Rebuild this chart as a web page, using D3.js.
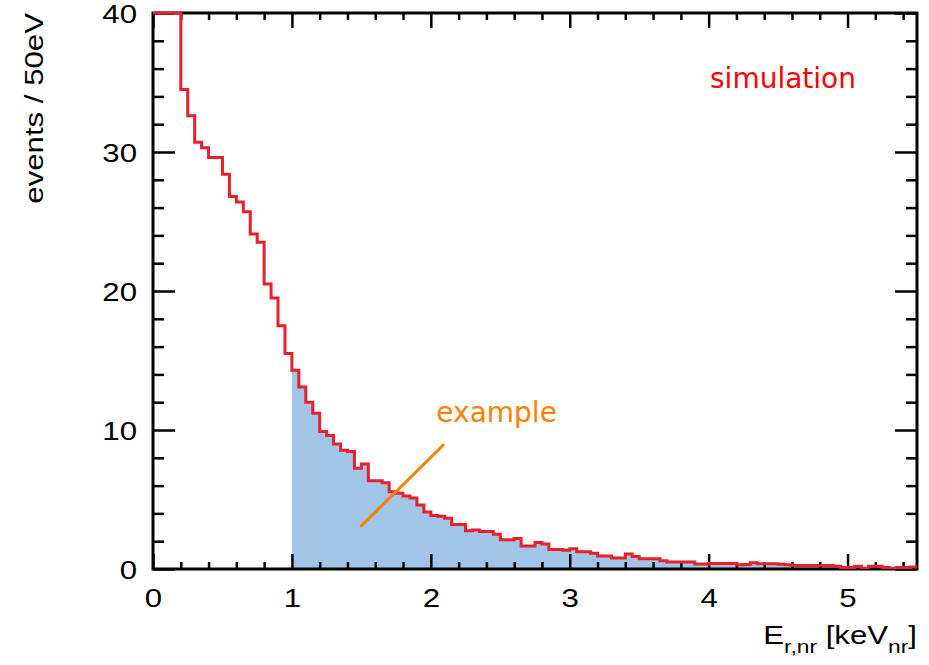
<!DOCTYPE html>
<html lang="en">
<head>
    <meta charset="UTF-8">
    <title>events / 50eV</title>
    <script src="https://d3js.org/d3.v7.min.js"></script>
    <style>
        body {
            margin: 0;
            padding: 0;
            background-color: #ffffff;
            overflow: hidden;
        }
        svg { display: block; }
        .tick-label {
            font-family: 'Liberation Sans', Arial, sans-serif;
            font-size: 26px;
            fill: #000;
        }
        .note {
            font-family: 'DejaVu Sans', sans-serif;
            font-size: 28px;
        }
    </style>
</head>
<body>
    <svg id="chart" width="929" height="665"></svg>

    <script>
        // --- data ---
        const binWidth = 0.05; // keV (50 eV)
        const xRange = [0, 5.5];
        const yRange = [0, 40];
        const xTickLabels = [0, 1, 2, 3, 4, 5];
        const yTickLabels = [0, 10, 20, 30, 40];
        const fillFrom = 1.0; // shaded region starts at 1 keV

        // events per 50 eV bin (first bins are off scale)
        const counts = [
            80, 60, 48, 42, 34.5, 32.6, 30.7, 30.3, 29.6, 29.6,
            28.4, 26.8, 26.4, 25.7, 24.1, 23.5, 20.5, 19.5, 17.5, 15.5,
            14.3, 13.1, 12.0, 11.2, 9.9, 9.6, 9.0, 8.55, 8.45, 7.25,
            7.55, 6.35, 6.35, 6.2, 5.55, 5.45, 5.25, 5.1, 4.6, 4.1,
            3.85, 3.8, 3.65, 3.2, 3.2, 2.75, 2.8, 2.7, 2.7, 2.5,
            2.1, 2.1, 2.2, 1.65, 1.65, 1.9, 1.8, 1.4, 1.4, 1.35,
            1.45, 1.25, 1.25, 1.13, 0.93, 0.93, 0.8, 0.8, 1.08, 0.9,
            0.74, 0.74, 0.74, 0.6, 0.5, 0.5, 0.5, 0.5, 0.36, 0.36,
            0.4, 0.4, 0.4, 0.4, 0.3, 0.33, 0.45, 0.38, 0.38, 0.38,
            0.35, 0.3, 0.25, 0.25, 0.25, 0.25, 0.25, 0.25, 0.2, 0.1,
            0.1, 0.2, 0.05, 0.2, 0.2, 0.1, 0.05, 0.1, 0.1, 0.15
        ];

        // --- layout ---
        const svg = d3.select("#chart");
        const plot = { left: 153, right: 917, top: 13, bottom: 569 };

        const x = d3.scaleLinear().domain(xRange).range([plot.left, plot.right]);
        const y = d3.scaleLinear().domain(yRange).range([plot.bottom, plot.top]).clamp(true);

        // bins as {x0, x1, v}
        const bins = counts.map((v, i) => ({ x0: i * binWidth, x1: (i + 1) * binWidth, v: v }));

        const defs = svg.append("defs");
        defs.append("clipPath").attr("id", "clip")
            .append("rect")
            .attr("x", plot.left).attr("y", plot.top - 2)
            .attr("width", plot.right - plot.left).attr("height", plot.bottom - plot.top + 2);

        const gFill = svg.append("g").attr("clip-path", "url(#clip)");

        // shaded area from 1 keV on
        const shaded = bins.filter(b => b.x0 >= fillFrom - 1e-9);
        const areaPts = shaded.map(b => [b.x0, b.v]);
        areaPts.push([shaded[shaded.length - 1].x1, shaded[shaded.length - 1].v]);
        const area = d3.area()
            .x(d => x(d[0]))
            .y0(y(0))
            .y1(d => y(d[1]))
            .curve(d3.curveStepAfter);
        gFill.append("path")
            .datum(areaPts)
            .attr("d", area)
            .attr("fill", "#a2c4e6");

        // --- axes (ticks on all four sides, ROOT style) ---
        const xMinor = d3.range(0, 5.5 + 1e-9, 0.2).filter(v => Math.abs(v - Math.round(v)) > 1e-6);
        const yMinor = d3.range(0, 40, 2).filter(v => v % 10 !== 0);

        function styleAxis(sel) {
            sel.select(".domain").remove();
            sel.selectAll(".tick line").attr("stroke", "#000").attr("stroke-width", 2.5);
        }

        // bottom
        const axB = svg.append("g").attr("transform", `translate(0,${plot.bottom})`);
        axB.append("g").call(d3.axisBottom(x).tickValues(xMinor).tickSize(-7).tickFormat("")).call(styleAxis);
        const bMaj = axB.append("g")
            .call(d3.axisBottom(x).tickValues(xTickLabels).tickSize(-15).tickPadding(20).tickFormat(d3.format("d")))
            .call(styleAxis);
        bMaj.selectAll("text")
            .attr("class", "tick-label")
            .attr("transform", "scale(1.2,1)");
        bMaj.attr("font-family", null).attr("font-size", null);

        // top
        const axT = svg.append("g").attr("transform", `translate(0,${plot.top})`);
        axT.append("g").call(d3.axisTop(x).tickValues(xMinor).tickSize(-7).tickFormat("")).call(styleAxis);
        axT.append("g").call(d3.axisTop(x).tickValues(xTickLabels).tickSize(-15).tickFormat("")).call(styleAxis);

        // left
        const axL = svg.append("g").attr("transform", `translate(${plot.left},0)`);
        axL.append("g").call(d3.axisLeft(y).tickValues(yMinor).tickSize(-11).tickFormat("")).call(styleAxis);
        const lMaj = axL.append("g")
            .call(d3.axisLeft(y).tickValues(yTickLabels).tickSize(-22).tickPadding(0).tickFormat(d3.format("d")))
            .call(styleAxis);
        lMaj.selectAll("text")
            .attr("class", "tick-label")
            .attr("x", -16 / 1.2)
            .attr("dy", "0.36em")
            .attr("transform", "scale(1.2,1)");
        lMaj.attr("font-family", null).attr("font-size", null);

        // right
        const axR = svg.append("g").attr("transform", `translate(${plot.right},0)`);
        axR.append("g").call(d3.axisRight(y).tickValues(yMinor).tickSize(-11).tickFormat("")).call(styleAxis);
        axR.append("g").call(d3.axisRight(y).tickValues(yTickLabels).tickSize(-22).tickFormat("")).call(styleAxis);

        // frame
        svg.append("rect")
            .attr("x", plot.left).attr("y", plot.top)
            .attr("width", plot.right - plot.left).attr("height", plot.bottom - plot.top)
            .attr("fill", "none")
            .attr("stroke", "#000")
            .attr("stroke-width", 3);

        // histogram outline (drawn over the frame; values above 40 sit on the top edge)
        const gLine = svg.append("g").attr("clip-path", "url(#clip)");
        const linePts = [];
        bins.forEach(b => { linePts.push([b.x0, b.v]); linePts.push([b.x1, b.v]); });
        const line = d3.line().x(d => x(d[0])).y(d => y(d[1]));
        gLine.append("path")
            .datum(linePts)
            .attr("d", line)
            .attr("fill", "none")
            .attr("stroke", "#e8202a")
            .attr("stroke-width", 3)
            .attr("stroke-linejoin", "miter");

        // annotation
        const arrow = [[1.50, 3.1], [2.09, 8.92]];
        svg.append("line")
            .attr("x1", x(arrow[0][0])).attr("y1", y(arrow[0][1]))
            .attr("x2", x(arrow[1][0])).attr("y2", y(arrow[1][1]))
            .attr("stroke", "#ff8000")
            .attr("stroke-width", 3)
            .attr("stroke-linecap", "round");
        svg.append("text")
            .attr("class", "note")
            .attr("x", x(2.04)).attr("y", y(10.6))
            .attr("fill", "#ff8000")
            .text("example");
        svg.append("text")
            .attr("class", "note")
            .attr("x", x(4.01)).attr("y", y(34.6))
            .attr("fill", "#ff0000")
            .text("simulation");

        // axis titles
        svg.append("text")
            .attr("class", "tick-label")
            .attr("transform", `translate(43,${plot.top}) rotate(-90) scale(1.2,1)`)
            .attr("text-anchor", "end")
            .text("events / 50eV");

        const xt = svg.append("text")
            .attr("class", "tick-label")
            .attr("transform", `translate(${plot.right},644) scale(1.2,1)`)
            .attr("text-anchor", "end");
        xt.append("tspan").text("E");
        xt.append("tspan").attr("font-size", "19px").attr("dy", 9).text("r,nr");
        xt.append("tspan").attr("dy", -9).text(" [keV");
        xt.append("tspan").attr("font-size", "19px").attr("dy", 9).text("nr");
        xt.append("tspan").attr("dy", -9).text("]");
    </script>
</body>
</html>
